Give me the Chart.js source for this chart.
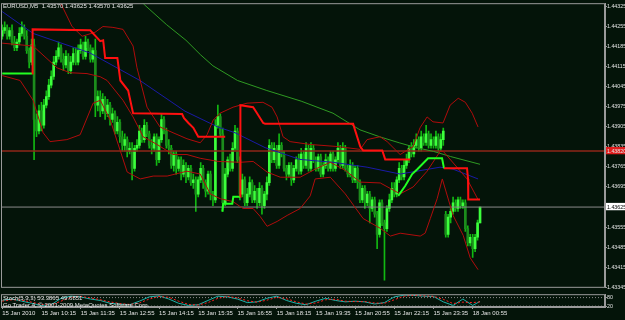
<!DOCTYPE html>
<html>
<head>
<meta charset="utf-8">
<script src="https://cdn.jsdelivr.net/npm/chart.js@4.4.1/dist/chart.umd.min.js"></script>
<style>
  html, body { margin: 0; padding: 0; background: #041409; }
  #wrap { position: relative; width: 625px; height: 320px; overflow: hidden; background: #041409; }
  #main { position: absolute; left: 0; top: 0; }
  #stoch { position: absolute; left: 0; top: 291px; }
  .lbl { position: absolute; color: #e4e4e4; font: 6px 'Liberation Sans', sans-serif; white-space: pre; line-height: 1; }
</style>
</head>
<body>
<div id="wrap">
  <canvas id="main" width="625" height="291"></canvas>
  <canvas id="stoch" width="625" height="29"></canvas>
  <div class="lbl" style="left:3px;top:3px">EURUSD,M5  1.43570 1.43625 1.43570 1.43625</div>
  <div class="lbl" style="left:3px;top:295px">Stoch(5,3,3) 53.3865 49.6851</div>
  <div class="lbl" style="left:3px;top:302px">Go Trader 4, © 2001-2009 MetaQuotes Software Corp.</div>
</div>
<script>
// ---- data: EURUSD M5, bar index 0 = 15 Jan 08:55 ----
const timeLabels = ['15 Jan 2010', '15 Jan 10:15', '15 Jan 11:35', '15 Jan 12:55', '15 Jan 14:15', '15 Jan 15:35',
  '15 Jan 16:55', '15 Jan 18:15', '15 Jan 19:35', '15 Jan 20:55', '15 Jan 22:15', '15 Jan 23:35', '18 Jan 00:55'];
const timeTickBars = [0, 16, 32, 48, 64, 80, 96, 112, 128, 144, 160, 176, 192];

const priceTicks = [1.44325, 1.44255, 1.44185, 1.44115, 1.44045, 1.43975, 1.43905, 1.43835,
  1.43765, 1.43695, 1.43625, 1.43555, 1.43485, 1.43415, 1.43345];
const levelPrice = 1.43820;
const bidPrice = 1.43625;

const opens = [
  1.4422,1.4424,1.4425,1.4422,1.4424,1.4420,1.4418,1.4420,1.4423,1.4425,
  1.4422,1.4417,1.4413,1.4419,1.4393,1.4389,1.4396,1.4391,1.4398,1.4401,
  1.4405,1.4408,1.4413,1.4415,1.4418,1.4414,1.4412,1.4415,1.4410,1.4413,
  1.4416,1.4413,1.4417,1.4419,1.4415,1.4420,1.4418,1.4414,1.4417,1.4398,
  1.4401,1.4396,1.4400,1.4395,1.4398,1.4393,1.4395,1.4389,1.4392,1.4387,
  1.4384,1.4386,1.4382,1.4383,1.4376,1.4383,1.4384,1.4389,1.4386,1.4391,
  1.4388,1.4384,1.4383,1.4387,1.4379,1.4386,1.4393,1.4389,1.4384,1.4383,
  1.4377,1.4381,1.4376,1.4379,1.4374,1.4377,1.4373,1.4376,1.4371,1.4372,
  1.4367,1.4372,1.4376,1.4371,1.4368,1.4374,1.4367,1.4365,1.4391,1.4394,
  1.4388,1.4364,1.4374,1.4379,1.4376,1.4383,1.4389,1.4379,1.4367,1.4372,
  1.4364,1.4367,1.4371,1.4365,1.4368,1.4364,1.4369,1.4363,1.4367,1.4371,
  1.4384,1.4379,1.4383,1.4377,1.4384,1.4381,1.4376,1.4374,1.4377,1.4372,
  1.4376,1.4379,1.4375,1.4381,1.4377,1.4383,1.4376,1.4383,1.4379,1.4376,
  1.4380,1.4374,1.4377,1.4379,1.4376,1.4381,1.4376,1.4379,1.4383,1.4377,
  1.4383,1.4376,1.4374,1.4377,1.4372,1.4376,1.4371,1.4365,1.4369,1.4364,
  1.4367,1.4362,1.4365,1.4360,1.4353,1.4364,1.4357,1.4355,1.4362,1.4365,
  1.4369,1.4367,1.4372,1.4376,1.4373,1.4377,1.4379,1.4383,1.4381,1.4384,
  1.4386,1.4383,1.4387,1.4385,1.4388,1.4384,1.4386,1.4384,1.4387,1.4383,
  1.4386,1.4360,1.4353,1.4359,1.4361,1.4364,1.4362,1.4365,1.4363,1.4364,
  1.4355,1.4350,1.4352,1.4348,1.4352,1.4357
];
const highs = [
  1.4426,1.4427,1.4426,1.4425,1.4426,1.4422,1.4421,1.4425,1.4427,1.4426,
  1.4424,1.4418,1.4421,1.4421,1.4395,1.4398,1.4399,1.4400,1.4403,1.4407,
  1.4410,1.4415,1.4417,1.4420,1.4419,1.4416,1.4417,1.4416,1.4415,1.4418,
  1.4418,1.4419,1.4421,1.4420,1.4422,1.4421,1.4419,1.4418,1.4421,1.4403,
  1.4403,1.4402,1.4401,1.4400,1.4399,1.4397,1.4396,1.4394,1.4393,1.4389,
  1.4388,1.4387,1.4385,1.4385,1.4384,1.4386,1.4391,1.4390,1.4393,1.4392,
  1.4389,1.4386,1.4388,1.4388,1.4387,1.4395,1.4394,1.4390,1.4386,1.4384,
  1.4382,1.4382,1.4380,1.4380,1.4379,1.4378,1.4377,1.4377,1.4374,1.4373,
  1.4373,1.4378,1.4377,1.4372,1.4375,1.4375,1.4368,1.4393,1.4398,1.4395,
  1.4390,1.4376,1.4380,1.4381,1.4385,1.4391,1.4390,1.4380,1.4374,1.4373,
  1.4369,1.4373,1.4372,1.4370,1.4369,1.4371,1.4370,1.4368,1.4373,1.4386,
  1.4385,1.4385,1.4384,1.4388,1.4385,1.4382,1.4377,1.4378,1.4378,1.4377,
  1.4380,1.4381,1.4383,1.4382,1.4385,1.4384,1.4385,1.4384,1.4380,1.4381,
  1.4381,1.4378,1.4381,1.4380,1.4382,1.4382,1.4380,1.4385,1.4384,1.4385,
  1.4384,1.4377,1.4379,1.4378,1.4377,1.4377,1.4372,1.4370,1.4370,1.4368,
  1.4368,1.4366,1.4366,1.4361,1.4365,1.4365,1.4358,1.4363,1.4367,1.4371,
  1.4371,1.4373,1.4378,1.4377,1.4379,1.4381,1.4384,1.4385,1.4386,1.4388,
  1.4387,1.4389,1.4388,1.4391,1.4389,1.4388,1.4387,1.4389,1.4388,1.4388,
  1.4390,1.4361,1.4360,1.4362,1.4366,1.4365,1.4366,1.4366,1.4365,1.4365,
  1.4356,1.4353,1.4353,1.4353,1.4358,1.43625
];
const lows = [
  1.4421,1.4423,1.4421,1.4421,1.4419,1.4417,1.4417,1.4419,1.4422,1.4421,
  1.4416,1.4411,1.4412,1.4379,1.4387,1.4388,1.4389,1.4390,1.4397,1.4400,
  1.4404,1.4407,1.4412,1.4414,1.4413,1.4410,1.4411,1.4409,1.4409,1.4412,
  1.4412,1.4412,1.4416,1.4414,1.4414,1.4417,1.4413,1.4413,1.4394,1.4396,
  1.4394,1.4395,1.4393,1.4394,1.4391,1.4392,1.4388,1.4388,1.4385,1.4382,
  1.4382,1.4380,1.4381,1.4372,1.4375,1.4382,1.4383,1.4385,1.4385,1.4387,
  1.4383,1.4381,1.4382,1.4377,1.4378,1.4385,1.4388,1.4383,1.4381,1.4376,
  1.4375,1.4374,1.4375,1.4372,1.4373,1.4371,1.4372,1.4370,1.4369,1.4361,
  1.4366,1.4371,1.4369,1.4366,1.4367,1.4365,1.4363,1.4364,1.4390,1.4387,
  1.4361,1.4363,1.4373,1.4375,1.4375,1.4382,1.4378,1.4365,1.4366,1.4363,
  1.4363,1.4366,1.4364,1.4364,1.4362,1.4363,1.4360,1.4362,1.4365,1.4370,
  1.4378,1.4378,1.4376,1.4376,1.4380,1.4375,1.4372,1.4373,1.4370,1.4371,
  1.4375,1.4374,1.4374,1.4376,1.4376,1.4375,1.4375,1.4378,1.4375,1.4375,
  1.4373,1.4373,1.4376,1.4375,1.4375,1.4375,1.4375,1.4378,1.4376,1.4376,
  1.4375,1.4373,1.4373,1.4371,1.4371,1.4369,1.4364,1.4364,1.4362,1.4363,
  1.4357,1.4361,1.4359,1.4348,1.4352,1.4356,1.4337,1.4354,1.4361,1.4364,
  1.4366,1.4366,1.4371,1.4372,1.4372,1.4376,1.4378,1.4380,1.4380,1.4383,
  1.4382,1.4382,1.4384,1.4384,1.4383,1.4383,1.4383,1.4383,1.4382,1.4382,
  1.4384,1.4352,1.4352,1.4357,1.4360,1.4361,1.4361,1.4362,1.4362,1.4354,
  1.4349,1.4349,1.4345,1.4347,1.4351,1.4357
];
const closes = [
  1.4424,1.4425,1.4422,1.4424,1.4420,1.4418,1.4420,1.4423,1.4425,1.4422,
  1.4417,1.4413,1.4419,1.4393,1.4389,1.4396,1.4391,1.4398,1.4401,1.4405,
  1.4408,1.4413,1.4415,1.4418,1.4414,1.4412,1.4415,1.4410,1.4413,1.4416,
  1.4413,1.4417,1.4419,1.4415,1.4420,1.4418,1.4414,1.4417,1.4398,1.4401,
  1.4396,1.4400,1.4395,1.4398,1.4393,1.4395,1.4389,1.4392,1.4387,1.4384,
  1.4386,1.4382,1.4383,1.4376,1.4383,1.4384,1.4389,1.4386,1.4391,1.4388,
  1.4384,1.4383,1.4387,1.4379,1.4386,1.4393,1.4389,1.4384,1.4383,1.4377,
  1.4381,1.4376,1.4379,1.4374,1.4377,1.4373,1.4376,1.4371,1.4372,1.4367,
  1.4372,1.4376,1.4371,1.4368,1.4374,1.4367,1.4365,1.4391,1.4394,1.4388,
  1.4364,1.4374,1.4379,1.4376,1.4383,1.4389,1.4379,1.4367,1.4372,1.4364,
  1.4367,1.4371,1.4365,1.4368,1.4364,1.4369,1.4363,1.4367,1.4371,1.4384,
  1.4379,1.4383,1.4377,1.4384,1.4381,1.4376,1.4374,1.4377,1.4372,1.4376,
  1.4379,1.4375,1.4381,1.4377,1.4383,1.4376,1.4383,1.4379,1.4376,1.4380,
  1.4374,1.4377,1.4379,1.4376,1.4381,1.4376,1.4379,1.4383,1.4377,1.4383,
  1.4376,1.4374,1.4377,1.4372,1.4376,1.4371,1.4365,1.4369,1.4364,1.4367,
  1.4362,1.4365,1.4360,1.4353,1.4364,1.4357,1.4355,1.4362,1.4365,1.4369,
  1.4367,1.4372,1.4376,1.4373,1.4377,1.4379,1.4383,1.4381,1.4384,1.4386,
  1.4383,1.4387,1.4385,1.4388,1.4384,1.4386,1.4384,1.4387,1.4383,1.4386,
  1.4389,1.4353,1.4359,1.4361,1.4364,1.4362,1.4365,1.4363,1.4364,1.4355,
  1.4350,1.4352,1.4348,1.4352,1.4357,1.43625
];

// slow moving average (green)
const slowMaBars = [44, 58, 67, 75, 81, 86, 96, 108, 122, 135, 146, 154, 162, 169, 176, 183, 195];
const slowMaVals = [1.44460, 1.44330, 1.44261, 1.44206, 1.44155, 1.44117, 1.44066, 1.44031, 1.43994,
  1.43952, 1.43894, 1.43870, 1.43849, 1.43832, 1.43819, 1.43801, 1.43774];

// medium moving average (blue)
const blueMaBars = [0, 12.6, 35.8, 56.2, 74.6, 88, 95, 107.3, 121.5, 135, 148.9, 162.4, 178.7, 184, 194.2];
const blueMaVals = [1.44306, 1.44230, 1.44162, 1.44066, 1.43959, 1.43904, 1.43884, 1.43832, 1.43791,
  1.43781, 1.43764, 1.43740, 1.43764, 1.43757, 1.43723];

// bollinger bands (thin dark red)
const bbUpperBars = [23.6, 28.5, 32.6, 37.9, 41.1, 45.2, 49.3, 53.4, 55, 59.1, 64.4, 69.7, 75.4, 80.8, 83.6,
  86.1, 88.9, 94.2, 99.9, 106.4, 110.1, 112.2, 114.6, 117.5, 125.7, 136.7, 146.1, 148.9, 154.2, 157.1, 162.4,
  167.7, 170.5, 173.4, 175.8, 179.9, 182.8, 186.1, 189, 191.8, 194.2];
const bbUpperVals = [1.44340, 1.44254, 1.44220, 1.44234, 1.44254, 1.44251, 1.44244, 1.44186, 1.44110, 1.43973,
  1.43904, 1.43884, 1.43863, 1.43849, 1.43877, 1.43928, 1.43952, 1.43973, 1.43987, 1.43990, 1.43973, 1.43939,
  1.43870, 1.43853, 1.43843, 1.43836, 1.43826, 1.43860, 1.43870, 1.43853, 1.43808, 1.43836, 1.43901, 1.43939,
  1.43922, 1.43918, 1.43980, 1.44004, 1.43990, 1.43952, 1.43904];
const bbMidBars = [0, 12.6, 22.4, 27.7, 34.6, 40, 42.8, 49.3, 53.4, 57.5, 63.2, 69.7, 75.4, 80.8, 88.1, 97.1,
  102.4, 108.1, 113.5, 121.6, 127.7, 133.9, 140, 146.1, 154.3, 162.4, 167.7, 173.4, 178.7, 180, 189.7, 194.2];
const bbMidVals = [1.44196, 1.44186, 1.44110, 1.44093, 1.44090, 1.44079, 1.44066, 1.43997, 1.43939, 1.43870,
  1.43843, 1.43808, 1.43808, 1.43795, 1.43784, 1.43781, 1.43784, 1.43747, 1.43729, 1.43729, 1.43757, 1.43781,
  1.43753, 1.43712, 1.43709, 1.43671, 1.43695, 1.43750, 1.43819, 1.43819, 1.43723, 1.43651];
const bbLowerBars = [0, 7.3, 12.6, 16.7, 19.5, 26.4, 31.8, 37.1, 40, 44.1, 51, 56.3, 61.6, 67.3, 75.4, 80.8,
  84.9, 89, 94.2, 98.3, 102.4, 105.3, 108.1, 112.2, 116.3, 121.6, 125.7, 127.7, 133.9, 140, 147.3, 154.3,
  158.4, 162.4, 170.6, 172.6, 174.7, 177.5, 179.6, 184, 188.1, 191, 194.2];
const bbLowerVals = [1.44083, 1.44066, 1.43997, 1.43884, 1.43853, 1.43860, 1.43877, 1.43987, 1.43997, 1.43928,
  1.43747, 1.43723, 1.43733, 1.43733, 1.43750, 1.43740, 1.43671, 1.43654, 1.43644, 1.43620, 1.43620, 1.43592,
  1.43558, 1.43575, 1.43596, 1.43620, 1.43664, 1.43723, 1.43729, 1.43671, 1.43585, 1.43551, 1.43524, 1.43534,
  1.43524, 1.43534, 1.43585, 1.43654, 1.43723, 1.43596, 1.43527, 1.43448, 1.43407];

// trailing stop lines (null = break)
const greenStopBars = [0, 12.2, 12.2, 89.8, 90.2, 93.9, 94.3, 97.1, 97.1, 161.6, 164.5, 167.3, 169.4, 173.8, 179.5, 180.3];
const greenStopVals = [1.44090, 1.44090, null, 1.43609, 1.43637, 1.43637, 1.43661, 1.43661, null,
  1.43664, 1.43699, 1.43740, 1.43757, 1.43795, 1.43795, 1.43760];
const redStopBars = [12.2, 12.4, 35.9, 40, 41.2, 42, 47, 48.2, 51.4, 53.4, 73.4, 74.2, 76, 78, 80, 91, 91,
  97.1, 97.2, 102.4, 104, 106.5, 107.3, 143.2, 146.1, 147.3, 155.1, 156.3, 166.5, 166.5,
  180.3, 189.7, 190.1, 190.2, 195];
const redStopVals = [1.44090, 1.44244, 1.44241, 1.44203, 1.44206, 1.44144, 1.44144, 1.44066, 1.44031, 1.43952,
  1.43949, 1.43935, 1.43918, 1.43901, 1.43870, 1.43870, null,
  1.43661, 1.43980, 1.43973, 1.43952, 1.43918, 1.43915, 1.43915, 1.43836, 1.43822, 1.43822, 1.43791, 1.43791, null,
  1.43760, 1.43760, 1.43723, 1.43651, 1.43651];

// stochastic (5,3,3)
const stochBars = [0, 4, 8, 12, 16, 20, 24, 28, 32, 36, 40, 44, 48, 52, 56, 60, 64, 68, 72, 76, 80, 84, 88, 92, 96,
  100, 104, 108, 112, 116, 120, 124, 128, 132, 136, 140, 144, 148, 152, 156, 160, 164, 168, 172, 176, 180, 184,
  188, 192, 195];
const stochMain = [60, 70, 55, 40, 25, 30, 75, 90, 85, 70, 60, 40, 35, 30, 55, 85, 92, 70, 40, 25, 30, 60, 90, 85, 70,
  45, 50, 75, 90, 60, 40, 30, 55, 75, 60, 50, 55, 50, 35, 45, 85, 97, 95, 90, 88, 50, 25, 70, 25, 53.4];
const stochSignal = [55, 65, 62, 48, 32, 28, 55, 82, 88, 78, 65, 50, 38, 32, 42, 70, 88, 82, 55, 32, 28, 45, 75, 88, 78,
  58, 48, 62, 82, 72, 50, 35, 42, 65, 68, 55, 52, 52, 42, 40, 65, 90, 96, 92, 89, 68, 38, 48, 45, 49.7];
const stochLevels = [80, 20];

// ---- drawing ----
const bg = '#041409';
const frameColor = '#9a9a9a';
const textColor = '#e4e4e4';
const fontFamily = "'Liberation Sans', sans-serif";
const xMin = -0.5, xMax = 246;

const pts = (xs, ys) => xs.map((x, i) => ({ x: x, y: ys[i] }));
const near = (a, b) => Math.abs(a - b) < 0.000005;

const frame = {
  id: 'frame',
  beforeDraw(chart) {
    const ctx = chart.ctx;
    ctx.save();
    ctx.fillStyle = bg;
    ctx.fillRect(0, 0, chart.width, chart.height);
    ctx.restore();
  },
  afterDraw(chart) {
    const { ctx, chartArea: a } = chart;
    ctx.save();
    ctx.strokeStyle = frameColor;
    ctx.lineWidth = 1;
    ctx.strokeRect(a.left + 0.5, a.top + 0.5, a.right - a.left - 1, a.bottom - a.top - 1);
    ctx.restore();
  }
};

function line(data, color, width, order, extra) {
  return Object.assign({
    type: 'line', data: data, borderColor: color, borderWidth: width,
    pointRadius: 0, fill: false, tension: 0, spanGaps: false, order: order
  }, extra || {});
}

const wickData = lows.map((l, i) => ({ x: i, y: [l, highs[i]] }));
const bodyData = opens.map((o, i) => ({ x: i, y: [o, closes[i]] }));
const bodyColors = opens.map((o, i) => closes[i] > o ? '#3cff3c' : '#1c8c1c');

new Chart(document.getElementById('main'), {
  type: 'bar',
  data: {
    datasets: [
      { type: 'bar', data: wickData, backgroundColor: '#12b812', barThickness: 1, grouped: false, order: 20 },
      { type: 'bar', data: bodyData, backgroundColor: bodyColors, barThickness: 2, minBarLength: 1, grouped: false, order: 19 },
      line([{ x: xMin, y: levelPrice }, { x: xMax, y: levelPrice }], '#8e2618', 1.5, 9),
      line([{ x: xMin, y: bidPrice }, { x: xMax, y: bidPrice }], '#8a8a8a', 1, 9),
      line(pts(slowMaBars, slowMaVals), '#2f9a23', 1, 6),
      line(pts(blueMaBars, blueMaVals), '#1a1aa6', 1, 6),
      line(pts(bbUpperBars, bbUpperVals), '#b00c0c', 1, 5),
      line(pts(bbMidBars, bbMidVals), '#b00c0c', 1, 5),
      line(pts(bbLowerBars, bbLowerVals), '#b00c0c', 1, 5),
      line(pts(redStopBars, redStopVals), '#ff1010', 2, 1),
      line(pts(greenStopBars, greenStopVals), '#22ff22', 2, 1)
    ]
  },
  options: {
    responsive: false,
    animation: false,
    layout: { padding: { left: 1, top: 1, right: 0, bottom: 1 } },
    plugins: { legend: { display: false }, tooltip: { enabled: false } },
    scales: {
      x: { type: 'linear', min: xMin, max: xMax, offset: false, display: false, grid: { offset: false } },
      y: {
        position: 'right',
        min: 1.433437,
        max: 1.443353,
        afterBuildTicks: s => { s.ticks = priceTicks.concat([levelPrice]).map(v => ({ value: v })); },
        afterFit: s => { s.width = 20; },
        ticks: {
          autoSkip: false,
          padding: 0,
          font: { family: fontFamily, size: 5.3 },
          color: c => near(c.tick.value, bidPrice) ? '#000000' : textColor,
          showLabelBackdrop: c => near(c.tick.value, bidPrice) || near(c.tick.value, levelPrice),
          backdropColor: c => near(c.tick.value, levelPrice) ? '#e01c1c' : '#ffffff',
          backdropPadding: { top: 1, bottom: 0, left: 1, right: 4 },
          callback: v => v.toFixed(5)
        },
        grid: { display: true, drawOnChartArea: false, drawTicks: true, tickLength: 2, color: frameColor },
        border: { display: true, color: frameColor }
      }
    }
  },
  plugins: [frame]
});

new Chart(document.getElementById('stoch'), {
  type: 'line',
  data: {
    datasets: [
      line([{ x: xMin, y: stochLevels[0] }, { x: xMax, y: stochLevels[0] }], '#8a8a8a', 1, 5, { borderDash: [1, 2] }),
      line([{ x: xMin, y: stochLevels[1] }, { x: xMax, y: stochLevels[1] }], '#8a8a8a', 1, 5, { borderDash: [1, 2] }),
      line(pts(stochBars, stochMain), '#20b2aa', 1, 2),
      line(pts(stochBars, stochSignal), '#ff2020', 1, 1, { borderDash: [2, 2] })
    ]
  },
  options: {
    responsive: false,
    animation: false,
    layout: { padding: { left: 1, top: 1, right: 0, bottom: 0 } },
    plugins: { legend: { display: false }, tooltip: { enabled: false } },
    scales: {
      x: {
        type: 'linear', min: xMin, max: xMax, offset: false,
        afterBuildTicks: s => { s.ticks = timeTickBars.map(v => ({ value: v })); },
        afterFit: s => { s.height = 13; },
        ticks: {
          autoSkip: false, maxRotation: 0, align: 'start', padding: 1,
          font: { family: fontFamily, size: 6 }, color: textColor,
          callback: (v, i) => timeLabels[i]
        },
        grid: { display: true, offset: false, drawOnChartArea: false, drawTicks: true, tickLength: 2, color: frameColor },
        border: { display: true, color: frameColor }
      },
      y: {
        position: 'right', min: 14, max: 104,
        afterBuildTicks: s => { s.ticks = stochLevels.map(v => ({ value: v })); },
        afterFit: s => { s.width = 20; },
        ticks: { autoSkip: false, padding: 0, font: { family: fontFamily, size: 5.3 }, color: textColor, callback: v => String(v) },
        grid: { display: true, drawOnChartArea: false, drawTicks: true, tickLength: 2, color: frameColor },
        border: { display: true, color: frameColor }
      }
    }
  },
  plugins: [frame]
});
</script>
</body>
</html>
